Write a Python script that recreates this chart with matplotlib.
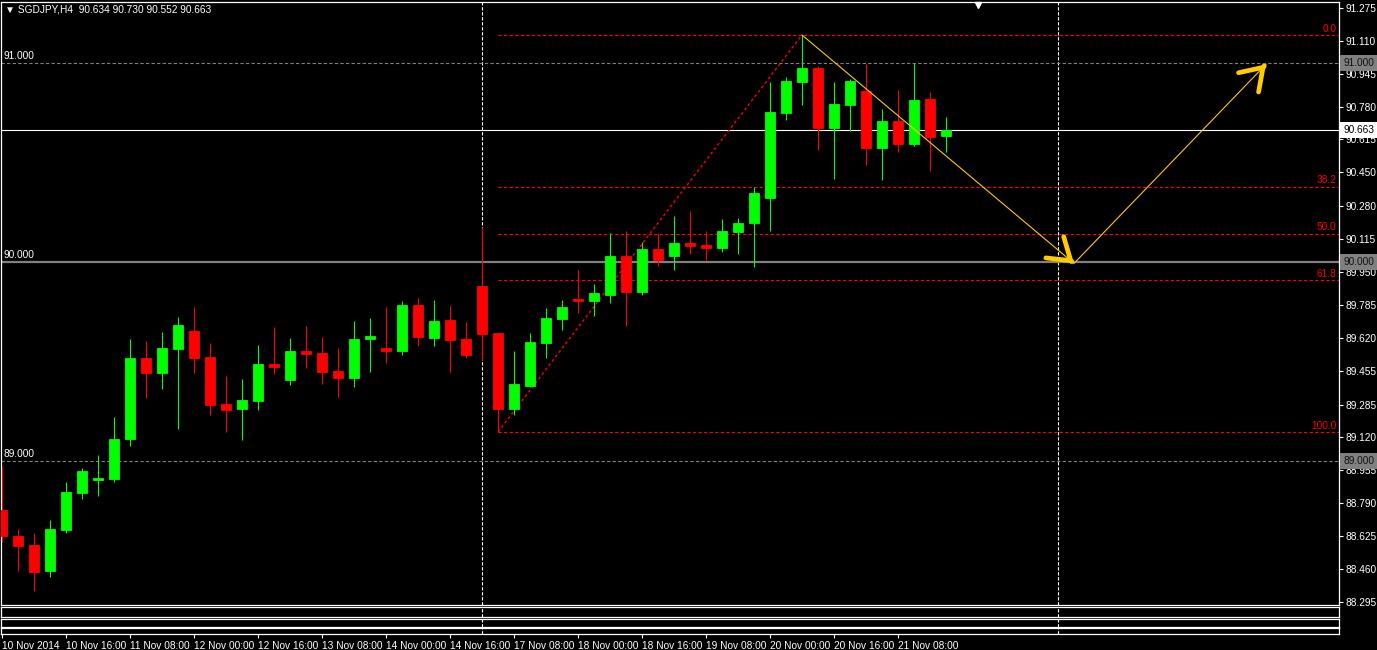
import matplotlib
matplotlib.use("Agg")
import matplotlib.pyplot as plt

# ---- data (SGDJPY H4, 60 bars from 10 Nov 2014 00:00) ----
symbol = "SGDJPY,H4"
opens = [88.756, 88.625, 88.580, 88.451, 88.657, 88.842, 88.908, 88.911, 89.112, 89.518,
         89.443, 89.563, 89.654, 89.523, 89.288, 89.264, 89.304, 89.488, 89.409, 89.553,
         89.543, 89.453, 89.420, 89.615, 89.569, 89.555, 89.784, 89.620, 89.709, 89.614,
         89.880, 89.644, 89.264, 89.379, 89.595, 89.716, 89.814, 89.806, 89.836, 90.030,
         89.851, 90.065, 90.032, 90.095, 90.085, 90.072, 90.152, 90.197, 90.323, 90.749,
         90.905, 90.973, 90.674, 90.789, 90.858, 90.574, 90.707, 90.594, 90.818, 90.634]
highs = [88.976, 88.660, 88.639, 88.705, 88.896, 88.968, 89.032, 89.222, 89.614, 89.604,
         89.649, 89.724, 89.774, 89.594, 89.428, 89.413, 89.584, 89.674, 89.619, 89.679,
         89.624, 89.569, 89.704, 89.719, 89.774, 89.804, 89.819, 89.809, 89.779, 89.699,
         90.174, 89.646, 89.553, 89.644, 89.769, 89.809, 89.960, 89.890, 90.146, 90.156,
         90.100, 90.146, 90.231, 90.256, 90.156, 90.216, 90.221, 90.378, 90.903, 90.928,
         91.139, 90.983, 90.903, 90.918, 90.993, 90.768, 90.863, 90.997, 90.853, 90.730]
lows = [88.597, 88.451, 88.351, 88.421, 88.642, 88.811, 88.827, 88.898, 89.078, 89.319,
        89.364, 89.164, 89.443, 89.234, 89.149, 89.108, 89.257, 89.440, 89.384, 89.470,
        89.389, 89.324, 89.374, 89.450, 89.495, 89.535, 89.580, 89.580, 89.450, 89.520,
        89.510, 89.147, 89.234, 89.374, 89.520, 89.660, 89.746, 89.731, 89.796, 89.680,
        89.836, 89.981, 89.961, 90.042, 90.012, 90.052, 90.042, 89.976, 90.156, 90.714,
        90.789, 90.563, 90.418, 90.659, 90.488, 90.413, 90.553, 90.584, 90.458, 90.552]
closes = [88.625, 88.577, 88.446, 88.660, 88.846, 88.951, 88.916, 89.112, 89.518, 89.443,
          89.569, 89.684, 89.518, 89.282, 89.257, 89.308, 89.488, 89.475, 89.553, 89.540,
          89.450, 89.420, 89.614, 89.629, 89.555, 89.784, 89.625, 89.704, 89.610, 89.535,
          89.640, 89.264, 89.388, 89.599, 89.719, 89.774, 89.806, 89.844, 90.030, 89.851,
          90.065, 90.012, 90.095, 90.082, 90.072, 90.156, 90.196, 90.348, 90.753, 90.908,
          90.973, 90.674, 90.793, 90.908, 90.574, 90.707, 90.594, 90.813, 90.629, 90.663]

date_labels = ["10 Nov 2014", "10 Nov 16:00", "11 Nov 08:00", "12 Nov 00:00", "12 Nov 16:00",
               "13 Nov 08:00", "14 Nov 00:00", "14 Nov 16:00", "17 Nov 08:00", "18 Nov 00:00",
               "18 Nov 16:00", "19 Nov 08:00", "20 Nov 00:00", "20 Nov 16:00", "21 Nov 08:00"]
label_step = 4

price_ticks = [91.275, 91.110, 90.945, 90.780, 90.615, 90.450, 90.280, 90.115, 89.950, 89.785,
               89.620, 89.455, 89.285, 89.120, 88.955, 88.790, 88.625, 88.460, 88.295]

round_dashed = [91.0, 89.0]
round_solid = [90.0]

fib_start, fib_end = 31, 50
fib_levels = [0.0, 38.2, 50.0, 61.8, 100.0]

wave_x = [50, 67, 79]
wave_y = [91.139, 89.993, 90.992]

separators = [30, 66]
shift_index = 61

# ---- layout (pixels) ----
W, H = 1377, 650
plt.rcParams['font.family'] = ['Liberation Sans Narrow', 'Liberation Sans', 'DejaVu Sans']
FS = 7.3


def rect(x0, y0, x1, y1):
    return [x0 / W, 1 - y1 / H, (x1 - x0) / W, (y1 - y0) / H]


fig = plt.figure(figsize=(W / 100, H / 100), dpi=100, facecolor="black")
ax = fig.add_axes(rect(1, 2, 1339, 605), facecolor="black")
panes = [fig.add_axes(rect(1, 607, 1339, 617), facecolor="black"),
         fig.add_axes(rect(1, 619, 1339, 627), facecolor="black"),
         fig.add_axes(rect(1, 628, 1339, 634), facecolor="black")]

xlim = (-1 / 16, 1337 / 16)
for a in [ax] + panes:
    a.set_xlim(*xlim)
    for s in a.spines.values():
        s.set_color("white")
        s.set_linewidth(0.9)
    a.set_yticks([])
    a.set_xticks([])
    for v in separators:
        a.axvline(v, color="white", lw=0.8, linestyle=(0, (3, 1.5)), zorder=1)

ax.set_ylim(88.279, 91.3046)

# round-number lines
for lv in round_dashed:
    ax.axhline(lv, color="#808080", lw=0.8, linestyle=(0, (3, 2)), zorder=1)
for lv in round_solid:
    ax.axhline(lv, color="#808080", lw=1.6, zorder=1)
for lv in round_dashed + round_solid:
    ax.annotate(f"{lv:.3f}", xy=(0, lv), xycoords=ax.get_yaxis_transform(),
                xytext=(2, 1.5), textcoords="offset points", ha="left", va="bottom",
                color="white", fontsize=FS)

# bid line
last = closes[-1]
ax.axhline(last, color="white", lw=0.8, zorder=1)

# fibonacci retracement
f_low = lows[fib_start]
f_high = highs[fib_end]
for lv in fib_levels:
    p = f_high - lv / 100 * (f_high - f_low)
    ax.plot([fib_start, xlim[1]], [p, p], color="#FF0000", lw=0.8,
            linestyle=(0, (3, 2)), zorder=1)
    ax.annotate(f"{lv:.1f}", xy=(1, p), xycoords=ax.get_yaxis_transform(),
                xytext=(-2, 1), textcoords="offset points", ha="right", va="bottom",
                color="#FF0000", fontsize=FS)
ax.plot([fib_start, fib_end], [f_low, f_high], color="#FF0000", lw=1.0,
        linestyle=(0, (2, 2)), zorder=1)

# candles
for i, (o, h, l, c) in enumerate(zip(opens, highs, lows, closes)):
    col = "#00FF00" if c >= o else "#FF0000"
    ax.vlines(i, l, h, color=col, lw=0.8, zorder=3)
    ax.bar(i, abs(c - o), bottom=min(o, c), width=0.66, color=col, edgecolor=col,
           lw=0.6, zorder=4)

# hand drawn wave with arrow heads
ax.plot(wave_x, wave_y, color="#FFC800", lw=0.8, zorder=5)
for k in (1, 2):
    tip = (wave_x[k], wave_y[k])
    prev = (wave_x[k - 1], wave_y[k - 1])
    start = (tip[0] - 0.01 * (tip[0] - prev[0]), tip[1] - 0.01 * (tip[1] - prev[1]))
    ax.annotate("", xy=tip, xytext=start,
                arrowprops=dict(arrowstyle="->,head_length=1.5,head_width=1.0",
                                lw=3.4, color="#FFCC00", shrinkA=0, shrinkB=0,
                                mutation_scale=10), zorder=6)

# right price scale
ax.yaxis.tick_right()
ax.set_yticks(price_ticks)
ax.set_yticklabels([f"{v:.3f}" for v in price_ticks])
ax.tick_params(axis="y", colors="white", length=3, width=0.8, labelsize=FS, pad=2)

yt = ax.get_yaxis_transform()
for lv in round_dashed + round_solid:
    ax.text(1.0 + 4 / 1338, lv, f"{lv:.3f}", transform=yt, ha="left", va="center",
            fontsize=FS, color="#101010", clip_on=False, zorder=10,
            bbox=dict(boxstyle="square,pad=0.28", facecolor="#808080", edgecolor="none"))
ax.text(1.0 + 4 / 1338, last, f"{last:.3f}", transform=yt, ha="left", va="center",
        fontsize=FS, color="black", clip_on=False, zorder=10,
        bbox=dict(boxstyle="square,pad=0.28", facecolor="white", edgecolor="none"))

# chart shift marker
ax.plot([shift_index], [1 - 3 / 603], marker="v", color="white", markersize=5,
        transform=ax.get_xaxis_transform(), clip_on=False, zorder=10)

# time scale on the last pane
bottom = panes[-1]
pos = list(range(0, label_step * len(date_labels), label_step))
bottom.set_xticks(pos)
bottom.set_xticklabels(date_labels, ha="left")
bottom.tick_params(axis="x", colors="white", length=3, width=0.8, labelsize=FS, pad=2)

# header
fig.text(5 / W, 1 - 10 / H,
         f"\u25BC {symbol}  {opens[-1]:.3f} {highs[-1]:.3f} {lows[-1]:.3f} {closes[-1]:.3f}",
         color="white", fontsize=FS, va="center", ha="left")

fig.savefig("out.png", dpi=100, facecolor="black")
